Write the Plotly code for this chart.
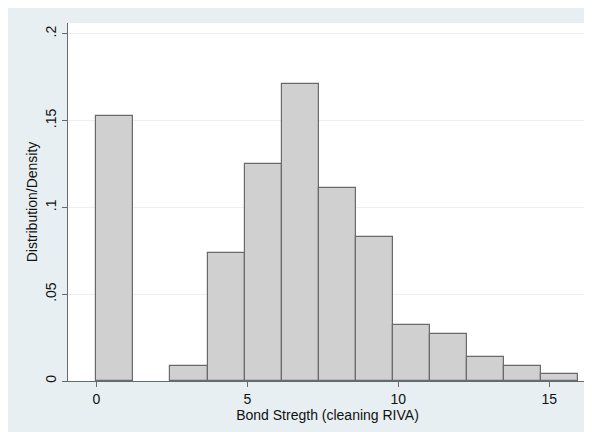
import numpy as np
import plotly.graph_objects as go

# Histogram data (Stata-style density histogram)
bin_start = 0.0
bin_width = 1.227
densities = [0.1525, None, 0.0089, 0.0737, 0.1248, 0.1713, 0.1110,
             0.0829, 0.0321, 0.0273, 0.0137, 0.0089, 0.0040]

x_tick_vals = [0, 5, 10, 15]
x_tick_text = ["0", "5", "10", "15"]
y_tick_vals = [0, 0.05, 0.1, 0.15, 0.2]
y_tick_text = ["0", ".05", ".1", ".15", ".2"]

x_title = "Bond Stregth (cleaning RIVA)"
y_title = "Distribution/Density"

centers = bin_start + (np.arange(len(densities)) + 0.5) * bin_width

W, H = 592, 432
ml, mr, mt, mb = 60, 13, 15, 59

panel = "#e8eff2"
font = dict(family="Liberation Sans, Arial, Helvetica, sans-serif", size=14, color="#111111")

fig = go.Figure()
fig.add_trace(go.Bar(
    x=centers, y=densities, width=bin_width,
    marker=dict(color="#d0d0d0", line=dict(color="#6a6a6a", width=1.2)),
    hoverinfo="x+y",
))

fig.update_layout(
    width=W, height=H,
    margin=dict(l=ml, r=mr, t=mt, b=mb, pad=0),
    paper_bgcolor=panel, plot_bgcolor="white",
    font=font, showlegend=False, bargap=0,
    xaxis=dict(
        range=[-0.94, 16.25], tickvals=x_tick_vals, ticktext=x_tick_text,
        showgrid=False, zeroline=False, showline=True, linecolor="#6a6a6a", linewidth=1.2,
        ticks="outside", ticklen=5, tickcolor="#6a6a6a", tickwidth=1.2,
        title=dict(text=x_title, font=font, standoff=4),
        tickfont=font,
    ),
    yaxis=dict(
        range=[0, 0.2062], tickvals=y_tick_vals, ticktext=y_tick_text,
        showgrid=True, gridcolor="#eaf1f2", gridwidth=1.2, zeroline=False,
        showline=True, linecolor="#6a6a6a", linewidth=1.2,
        ticks="outside", ticklen=5, tickcolor="#6a6a6a", tickwidth=1.2,
        tickangle=-90, tickfont=font,
        title=dict(text=y_title, font=font, standoff=2),
    ),
)

fig.write_html("out.html")
